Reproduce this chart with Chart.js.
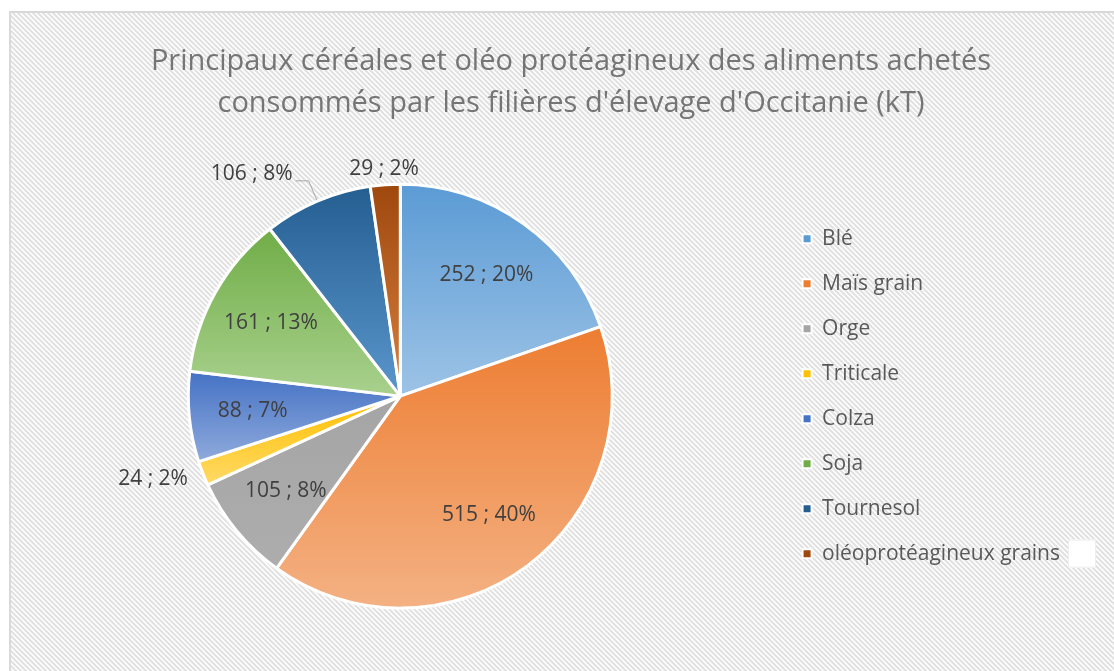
<!DOCTYPE html>
<html>
<head>
<meta charset="utf-8">
<script src="https://cdn.jsdelivr.net/npm/chart.js@4"></script>
<style>
  html, body { margin: 0; padding: 0; background: #fff; overflow: hidden; }
  #wrap { width: 1142px; height: 671px; }
</style>
</head>
<body>
<div id="wrap"><canvas id="pieChart"></canvas></div>
<script>
// === DATA ===
const titleLines = ["Principaux céréales et oléo protéagineux des aliments achetés",
                    "consommés par les filières d'élevage d'Occitanie (kT)"];
const categories = ["Blé", "Maïs grain", "Orge", "Triticale", "Colza", "Soja", "Tournesol", "oléoprotéagineux grains"];
const values = [252, 515, 105, 24, 88, 161, 106, 29];

// colours: top of each slice -> bottom of each slice
const topColors = ["#5B9BD5", "#ED7D31", "#A5A5A5", "#FFC000", "#4472C4", "#70AD47", "#255E91", "#9E480E"];
const bottomColors = ["#9DC3E6", "#F4B183", "#ADADAD", "#FFD966", "#8FAADC", "#A9D18E", "#5A96CC", "#D9803F"];

// labels that Excel put outside the pie (Tournesol gets a leader line)
const outsideLabels = ["Triticale", "Tournesol", "oléoprotéagineux grains"];
const leaderLabels = ["Tournesol"];

const PIE_RADIUS = 212;
const total = values.reduce((a, b) => a + b, 0);

// vertical gradient over the slice's own height
function sliceGradient(c) {
  const i = c.dataIndex;
  const area = c.chart.chartArea;
  if (!area || i === undefined) return topColors[i] || topColors[0];
  const cy = (area.top + area.bottom) / 2;
  let start = 0;
  for (let k = 0; k < i; k++) start += values[k];
  const a0 = start / total * 2 * Math.PI;
  const a1 = (start + values[i]) / total * 2 * Math.PI;
  const ys = [cy, cy - PIE_RADIUS * Math.cos(a0), cy - PIE_RADIUS * Math.cos(a1)];
  if (a0 <= 0) ys.push(cy - PIE_RADIUS);
  if (a0 <= Math.PI && a1 >= Math.PI) ys.push(cy + PIE_RADIUS);
  const g = c.chart.ctx.createLinearGradient(0, Math.min(...ys), 0, Math.max(...ys));
  g.addColorStop(0, topColors[i]);
  g.addColorStop(1, bottomColors[i]);
  return g;
}

// === BACKGROUND: hatched frame ===
const hatchFrame = {
  id: "hatchFrame",
  beforeDraw(chart) {
    const ctx = chart.ctx;
    const s = 5;
    const tile = document.createElement("canvas");
    tile.width = s; tile.height = s;
    const t = tile.getContext("2d");
    t.fillStyle = "#fff"; t.fillRect(0, 0, s, s);
    t.strokeStyle = "#e1e1e1"; t.lineWidth = 2;
    t.beginPath();
    t.moveTo(0, 0); t.lineTo(s, s);
    t.moveTo(-s / 2, s / 2); t.lineTo(s / 2, s * 1.5);
    t.moveTo(s / 2, -s / 2); t.lineTo(s * 1.5, s / 2);
    t.stroke();
    ctx.save();
    ctx.fillStyle = "#fff";
    ctx.fillRect(0, 0, chart.width, chart.height);
    ctx.fillStyle = ctx.createPattern(tile, "repeat");
    ctx.fillRect(11, 13, chart.width - 22, chart.height);
    ctx.strokeStyle = "#d9d9d9"; ctx.lineWidth = 2;
    ctx.strokeRect(10, 12, chart.width - 20, chart.height + 10);
    ctx.restore();
  }
};

// empty box right of the legend (Excel keeps space there)
const legendSpacer = {
  id: "legendSpacer",
  beforeInit(chart) {
    Chart.layouts.addBox(chart, {
      position: "right", weight: 2000, fullSize: false, options: {},
      isHorizontal() { return false; },
      update(maxWidth, maxHeight) { this.width = 50; this.height = maxHeight; },
      draw() {}
    });
  },
  afterDraw(chart) {
    // the little blank white box Excel shows after the last legend entry
    const boxes = chart.legend && chart.legend.legendHitBoxes;
    if (!boxes || !boxes.length) return;
    const hb = boxes[boxes.length - 1];
    const ctx = chart.ctx;
    const cy = hb.top + hb.height / 2;
    ctx.save();
    ctx.fillStyle = "#fff";
    ctx.strokeStyle = "#eeeeee";
    ctx.lineWidth = 1;
    ctx.fillRect(hb.left + hb.width + 8, cy - 14, 28, 28);
    ctx.strokeRect(hb.left + hb.width + 8.5, cy - 13.5, 27, 27);
    ctx.restore();
  }
};

// === DATA LABELS: "value ; pct%" ===
const sliceLabels = {
  id: "sliceLabels",
  afterDatasetsDraw(chart) {
    const ctx = chart.ctx;
    ctx.save();
    ctx.font = '21px "Open Sans"';
    ctx.fillStyle = "#404040";
    chart.getDatasetMeta(0).data.forEach((arc, i) => {
      const {x, y, startAngle, endAngle, outerRadius} =
        arc.getProps(["x", "y", "startAngle", "endAngle", "outerRadius"], true);
      const mid = (startAngle + endAngle) / 2;
      const cos = Math.cos(mid), sin = Math.sin(mid);
      const text = values[i] + " ; " + Math.round(values[i] / total * 100) + "%";
      ctx.textBaseline = "middle";
      if (!outsideLabels.includes(categories[i])) {
        ctx.textAlign = "center";
        ctx.fillText(text, x + cos * outerRadius * 0.7, y + sin * outerRadius * 0.7);
        return;
      }
      const dir = cos < -0.3 ? -1 : cos > 0.3 ? 1 : 0;
      ctx.textAlign = dir < 0 ? "right" : dir > 0 ? "left" : "center";
      if (leaderLabels.includes(categories[i])) {
        const px = x + cos * (outerRadius + 22);
        const py = y + sin * (outerRadius + 22);
        ctx.strokeStyle = "#a6a6a6";
        ctx.lineWidth = 1;
        ctx.beginPath();
        ctx.moveTo(x + cos * (outerRadius + 1), y + sin * (outerRadius + 1));
        ctx.lineTo(px, py);
        ctx.lineTo(px + dir * 13, py);
        ctx.stroke();
        ctx.fillText(text, px + dir * 16, py - 7);
      } else {
        const px = x + cos * (outerRadius + 16);
        const py = y + sin * (outerRadius + 16);
        ctx.fillText(text, px, py);
      }
    });
    ctx.restore();
  }
};

// === CHART ===
function renderPie() {
  const ctx = document.getElementById("pieChart").getContext("2d");
  new Chart(ctx, {
    type: "pie",
    data: {
      labels: categories,
      datasets: [{
        data: values,
        backgroundColor: sliceGradient,
        borderColor: "#fff",
        borderWidth: 3
      }]
    },
    options: {
      responsive: true,
      maintainAspectRatio: false,
      animation: false,
      events: [],
      radius: PIE_RADIUS,
      layout: { padding: { left: 22, right: 22, top: 12, bottom: 14 } },
      plugins: {
        title: {
          display: true,
          text: titleLines,
          color: "#757575",
          font: { family: "'Open Sans'", size: 29, weight: "normal", lineHeight: 1.47 },
          padding: { top: 28, bottom: 10 }
        },
        legend: {
          position: "right",
          align: "center",
          fullSize: false,
          maxWidth: 400,
          labels: {
            boxWidth: 9,
            boxHeight: 9,
            padding: 24,
            color: "#595959",
            font: { family: "'Open Sans'", size: 21 },
            generateLabels: (chart) => categories.map((c, i) => ({
              text: c,
              fillStyle: topColors[i],
              strokeStyle: "#fff",
              lineWidth: 2,
              fontColor: "#595959",
              hidden: false,
              index: i
            }))
          }
        },
        tooltip: { enabled: false }
      }
    },
    plugins: [hatchFrame, legendSpacer, sliceLabels]
  });
}

// wait for the local font so legend widths are measured right
Promise.all([
  document.fonts.load('21px "Open Sans"'),
  document.fonts.load('29px "Open Sans"')
]).then(renderPie, renderPie);
</script>
</body>
</html>
